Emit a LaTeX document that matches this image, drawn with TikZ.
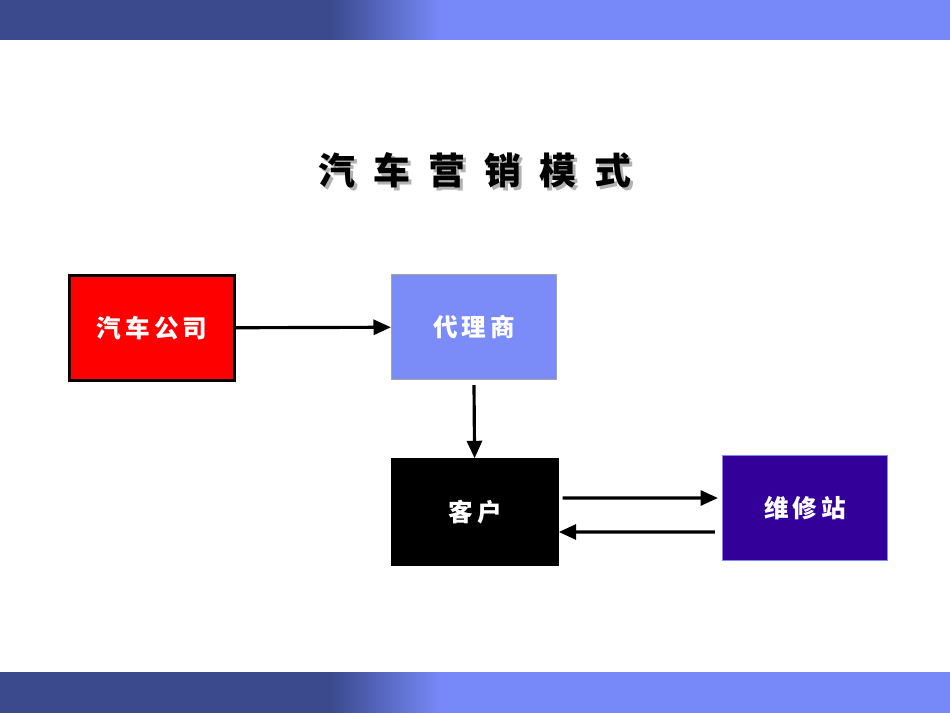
\documentclass[tikz,border=0pt]{standalone}
\usepackage{fontspec}
\newfontfamily\cjk{Noto Sans CJK SC}
\usetikzlibrary{positioning, arrows.meta}
\definecolor{band}{HTML}{7788F8}
\definecolor{bandd}{HTML}{3A4A8C}
\definecolor{agent}{HTML}{7B8CF8}
\definecolor{station}{HTML}{330099}
\begin{document}
\begin{tikzpicture}[
    x=0.02cm, y=-0.02cm,
    % --- styles ---
    unit/.style={
            draw=black,
            line width=1.4pt,
            minimum width=3.3cm,
            minimum height=2.1cm,
            align=center,
            text=white,
            font=\cjk\fontsize{14}{16}\selectfont\bfseries
        },
    flow/.style={
            -{Triangle[length=3.5mm,width=3mm]},
            line width=1.8pt
        }
    ]
    \useasboundingbox (0,0) rectangle (950,713);

    % --- banners ---
    \fill[band] (0,0) rectangle (950,40);
    \fill[band] (0,672) rectangle (950,713);
    \fill[bandd] (0,0) rectangle (330,40);
    \fill[bandd] (0,672) rectangle (330,713);
    \shade[left color=bandd, right color=band] (330,0) rectangle (440,40);
    \shade[left color=bandd, right color=band] (330,672) rectangle (440,713);

    % --- title ---
    \node[text=gray!60, font=\cjk\fontsize{21}{24}\selectfont\bfseries] at (478,173) {汽\enspace 车\enspace 营\enspace 销\enspace 模\enspace 式};
    \node[font=\cjk\fontsize{21}{24}\selectfont\bfseries] (title) at (475,170) {汽\enspace 车\enspace 营\enspace 销\enspace 模\enspace 式};

    % --- nodes ---
    \node[unit, fill=red] (company) at (152,328) {汽\,车\,公\,司};
    \node[unit, fill=agent, draw=gray!70, line width=0.6pt] (agent) at (474,327) {代\,理\,商};
    \node[unit, fill=black] (client) at (475,512) {客\,户};
    \node[unit, fill=station, draw=agent, line width=0.6pt] (repair) at (805,508) {维\,修\,站};

    % --- connectors ---
    \draw[flow] (company) -- (agent);
    \draw[flow] ([yshift=-0.1cm]agent.south) -- (client);
    \draw[flow] ([xshift=0.08cm,yshift=0.28cm]client.east) -- ([xshift=-0.08cm,yshift=0.2cm]repair.west);
    \draw[flow] ([xshift=-0.14cm,yshift=-0.48cm]repair.west) -- ([yshift=-0.4cm]client.east);
\end{tikzpicture}
\end{document}
